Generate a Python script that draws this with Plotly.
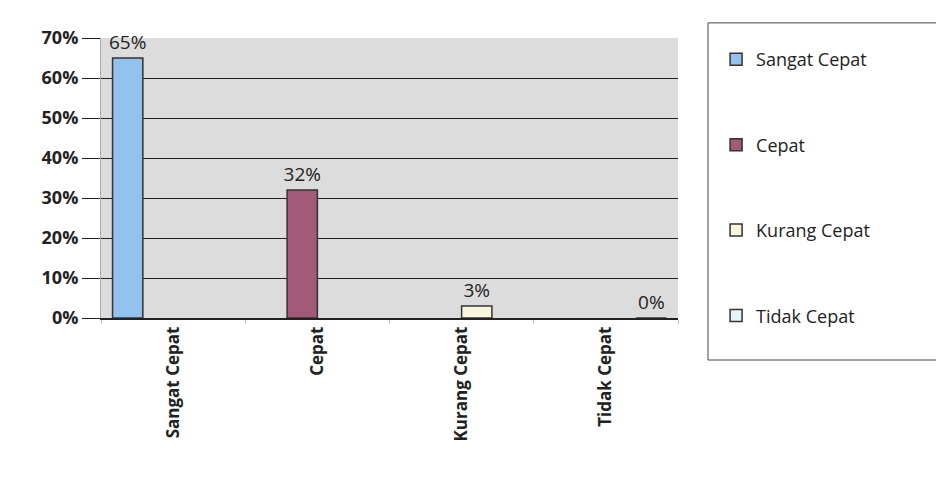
import plotly.graph_objects as go

categories = ["Sangat Cepat", "Cepat", "Kurang Cepat", "Tidak Cepat"]
values = [0.65, 0.32, 0.03, 0.0]
labels = ["65%", "32%", "3%", "0%"]
colors = ["#93c2ee", "#a35a79", "#f8f6dc", "#e6f6f8"]
y_ticks = [0, 0.1, 0.2, 0.3, 0.4, 0.5, 0.6, 0.7]
y_tick_text = ["0%", "10%", "20%", "30%", "40%", "50%", "60%", "70%"]

fig = go.Figure()
for i, cat in enumerate(categories):
    fig.add_trace(go.Bar(
        x=[cat], y=[values[i]], name=cat,
        legendgroup=cat, offsetgroup=str(i),
        marker=dict(color=colors[i], line=dict(color="#333333", width=1.5)),
        text=[labels[i]], textposition="outside", constraintext="none",
        textfont=dict(size=19, color="#222222", family="Open Sans"),
        cliponaxis=False,
    ))

# legend frame (extends to the right edge as in the reference)
fig.add_shape(type="rect", xref="paper", yref="paper",
              x0=1.052, x1=1.472, y0=-0.15, y1=1.054,
              line=dict(color="#444444", width=1), fillcolor="rgba(0,0,0,0)",
              layer="below")

fig.update_layout(
    width=944, height=484,
    margin=dict(l=93, r=274, t=30, b=174),
    barmode="group", bargap=0.16, bargroupgap=0,
    paper_bgcolor="white", plot_bgcolor="#dcdcdc",
    font=dict(family="Open Sans", color="#222222"),
    xaxis=dict(
        categoryorder="array", categoryarray=categories,
        tickangle=-90, tickson="boundaries", ticks="outside", ticklen=4,
        tickcolor="#bbbbbb", showgrid=False,
        tickfont=dict(size=17, family="Open Sans", color="#222222", weight="bold"),
        showline=True, linecolor="#222222", linewidth=1.5,
    ),
    yaxis=dict(
        range=[0, 0.7], tickvals=y_ticks, ticktext=y_tick_text,
        showgrid=True, gridcolor="#222222", gridwidth=1.2,
        ticks="outside", ticklen=18, tickcolor="#222222",
        tickfont=dict(size=18, family="Open Sans", color="#222222", weight="bold"),
        showline=True, linecolor="#aaaaaa", linewidth=1, zeroline=False,
    ),
    legend=dict(
        x=1.066, y=1.054, xanchor="left", yanchor="top",
        borderwidth=0, bgcolor="rgba(0,0,0,0)",
        font=dict(size=18, family="Open Sans", color="#222222"),
        tracegroupgap=59, maxheight=420,
        title=dict(text=" ", font=dict(size=14)),
    ),
    showlegend=True,
)

fig.write_html("out.html")
